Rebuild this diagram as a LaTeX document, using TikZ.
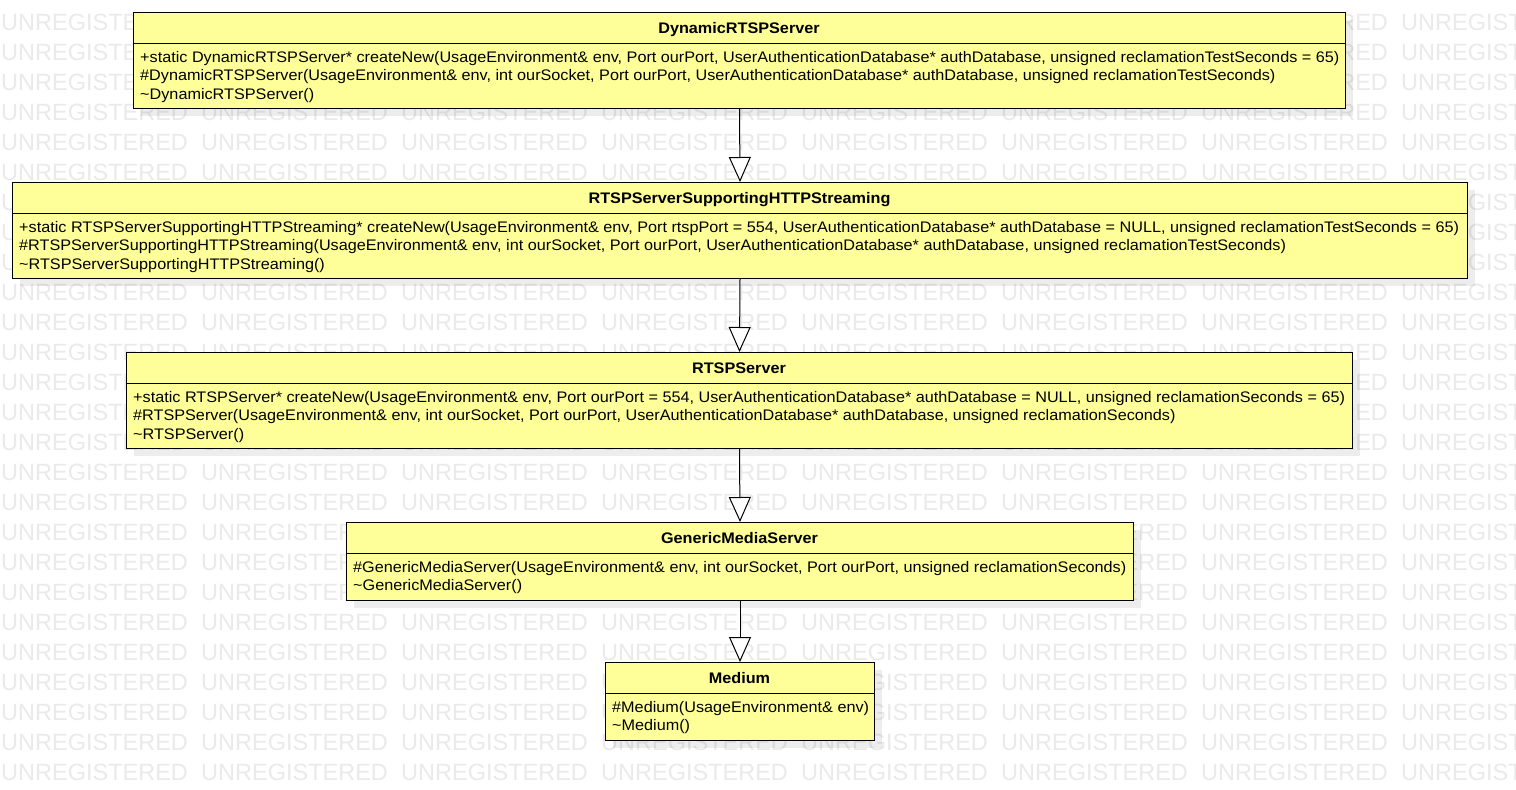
\documentclass[tikz,border=0pt]{standalone}
\usepackage{fontspec}
\setmainfont{Liberation Sans}
\newfontfamily\umlfont{Liberation Sans}[FakeStretch=1.06]
\usetikzlibrary{arrows.meta}
\definecolor{wmcol}{HTML}{EAEAEA}
\definecolor{classfill}{HTML}{FFFF99}
\tikzset{
  wmtext/.style={anchor=base west, inner sep=0pt, text=wmcol, font=\fontsize{23.5}{23.5}\selectfont},
  classbox/.style={draw=black, fill=classfill, line width=1pt, inner sep=0pt, anchor=north west},
  shadowbox/.style={fill=black, opacity=0.07},
  divider/.style={draw=black, line width=1pt},
  classtitle/.style={anchor=base, inner sep=0pt, font=\umlfont\fontsize{15.3}{18}\selectfont\bfseries},
  member/.style={anchor=base west, inner sep=0pt, font=\umlfont\fontsize{15.3}{18}\selectfont},
  generalization/.style={draw=black, line width=1pt, -{Triangle[open, length=25pt, width=22pt, fill=white]}}
}
\begin{document}
\begin{tikzpicture}[x=1pt, y=-1pt]
\useasboundingbox (0,0) rectangle (1516,790);
\clip (0,0) rectangle (1516,790);
\fill[white] (0,0) rectangle (1516,790);
% watermark
\foreach \r in {0,...,25} {
  \foreach \c in {0,...,7} {
    \node[wmtext] (wm-\r-\c) at ({\c*200+1}, {30+\r*30}) {UNREGISTERED};
  }
}
% shadows
\fill[shadowbox] (141,20) rectangle (1353,116);
\fill[shadowbox] (20,190) rectangle (1475,286);
\fill[shadowbox] (134,360) rectangle (1360,456);
\fill[shadowbox] (354,530) rectangle (1141,608);
\fill[shadowbox] (613,670) rectangle (882,748);
% class 1
\node[classbox, minimum width=1212pt, minimum height=96pt] (c1) at (133,12) {};
\draw[divider] (133,43) -- (1345,43);
\node[classtitle] (c1t) at (739,33) {DynamicRTSPServer};
\node[member] (c1a) at (140,62) {+static DynamicRTSPServer* createNew(UsageEnvironment\& env, Port ourPort, UserAuthenticationDatabase* authDatabase, unsigned reclamationTestSeconds = 65)};
\node[member] (c1b) at (140,80.5) {\#DynamicRTSPServer(UsageEnvironment\& env, int ourSocket, Port ourPort, UserAuthenticationDatabase* authDatabase, unsigned reclamationTestSeconds)};
\node[member] (c1c) at (140,99) {\textasciitilde DynamicRTSPServer()};
% class 2
\node[classbox, minimum width=1455pt, minimum height=96pt] (c2) at (12,182) {};
\draw[divider] (12,213) -- (1467,213);
\node[classtitle] (c2t) at (739.5,203) {RTSPServerSupportingHTTPStreaming};
\node[member] (c2a) at (19,232) {+static RTSPServerSupportingHTTPStreaming* createNew(UsageEnvironment\& env, Port rtspPort = 554, UserAuthenticationDatabase* authDatabase = NULL, unsigned reclamationTestSeconds = 65)};
\node[member] (c2b) at (19,250.5) {\#RTSPServerSupportingHTTPStreaming(UsageEnvironment\& env, int ourSocket, Port ourPort, UserAuthenticationDatabase* authDatabase, unsigned reclamationTestSeconds)};
\node[member] (c2c) at (19,269) {\textasciitilde RTSPServerSupportingHTTPStreaming()};
% class 3
\node[classbox, minimum width=1226pt, minimum height=96pt] (c3) at (126,352) {};
\draw[divider] (126,383) -- (1352,383);
\node[classtitle] (c3t) at (739,373) {RTSPServer};
\node[member] (c3a) at (133,402) {+static RTSPServer* createNew(UsageEnvironment\& env, Port ourPort = 554, UserAuthenticationDatabase* authDatabase = NULL, unsigned reclamationSeconds = 65)};
\node[member] (c3b) at (133,420.5) {\#RTSPServer(UsageEnvironment\& env, int ourSocket, Port ourPort, UserAuthenticationDatabase* authDatabase, unsigned reclamationSeconds)};
\node[member] (c3c) at (133,439) {\textasciitilde RTSPServer()};
% class 4
\node[classbox, minimum width=787pt, minimum height=78pt] (c4) at (346,522) {};
\draw[divider] (346,553) -- (1133,553);
\node[classtitle] (c4t) at (739.5,543) {GenericMediaServer};
\node[member] (c4a) at (353,572) {\#GenericMediaServer(UsageEnvironment\& env, int ourSocket, Port ourPort, unsigned reclamationSeconds)};
\node[member] (c4b) at (353,590.5) {\textasciitilde GenericMediaServer()};
% class 5
\node[classbox, minimum width=269pt, minimum height=78pt] (c5) at (605,662) {};
\draw[divider] (605,693) -- (874,693);
\node[classtitle] (c5t) at (739.5,683) {Medium};
\node[member] (c5a) at (612,712) {\#Medium(UsageEnvironment\& env)};
\node[member] (c5b) at (612,730.5) {\textasciitilde Medium()};
% generalizations
\draw[generalization] (c1.south) -- (c2.north);
\draw[generalization] (c2.south) -- (c3.north);
\draw[generalization] (c3.south) -- (c4.north);
\draw[generalization] (c4.south) -- (c5.north);
\end{tikzpicture}
\end{document}
